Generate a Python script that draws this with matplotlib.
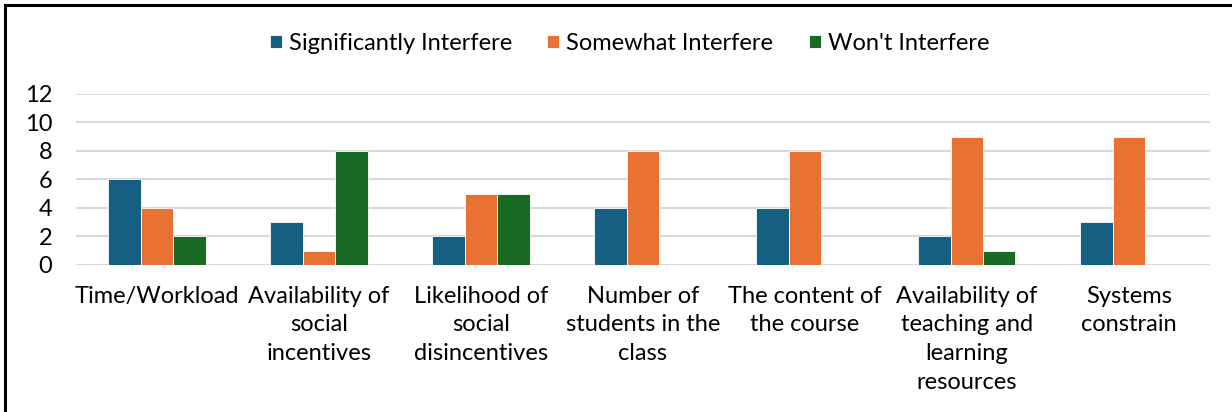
import numpy as np
import matplotlib.pyplot as plt
from matplotlib.lines import Line2D

categories = [
    'Time/Workload',
    'Availability of\nsocial\nincentives',
    'Likelihood of\nsocial\ndisincentives',
    'Number of\nstudents in the\nclass',
    'The content of\nthe course',
    'Availability of\nteaching and\nlearning\nresources',
    'Systems\nconstrain',
]
significantly = [6, 3, 2, 4, 4, 2, 3]
somewhat = [4, 1, 5, 8, 8, 9, 9]
wont = [2, 8, 5, 0, 0, 1, 0]

series_names = ['Significantly Interfere', 'Somewhat Interfere', "Won't Interfere"]
colors = ['#156082', '#E97132', '#196B24']

plt.rcParams['font.family'] = ['Lato', 'DejaVu Sans']
fs = 17

fig = plt.figure(figsize=(12.32, 4.12), dpi=100)
ax = fig.add_axes([0.0617, 0.357, 0.9203, 0.415])

x = np.arange(len(categories))
bar_width = 0.2
for i, (vals, name, col) in enumerate(zip([significantly, somewhat, wont], series_names, colors)):
    ax.bar(x + (i - 1) * bar_width, vals, bar_width, color=col, label=name,
           edgecolor='white', linewidth=0.6, zorder=3)

ax.set_xlim(-0.5, len(categories) - 0.5)
ax.set_ylim(0, 12)
ax.set_yticks(range(0, 13, 2))
ax.set_xticks(x)
ax.set_xticklabels(categories, fontsize=fs, linespacing=1.45, va='top')
ax.tick_params(axis='y', labelsize=fs, length=0, pad=17)
ax.tick_params(axis='x', length=0, pad=15)
ax.grid(axis='y', color='#D9D9D9', linewidth=1.5, zorder=0)
for s in ax.spines.values():
    s.set_visible(False)

ax.legend(loc='center', bbox_to_anchor=(0.511, 0.895), bbox_transform=fig.transFigure,
          ncol=3, frameon=False, fontsize=fs, handlelength=0.5, handleheight=0.5,
          handletextpad=0.3, columnspacing=1.5)

# border around the chart
fig.add_artist(Line2D([5 / 1232, 1], [1 - 5 / 412, 1 - 5 / 412],
                      transform=fig.transFigure, color='black', linewidth=2.2))
fig.add_artist(Line2D([5 / 1232, 5 / 1232], [0, 1 - 5 / 412],
                      transform=fig.transFigure, color='black', linewidth=2.2))

plt.savefig('out.png', dpi=100)
